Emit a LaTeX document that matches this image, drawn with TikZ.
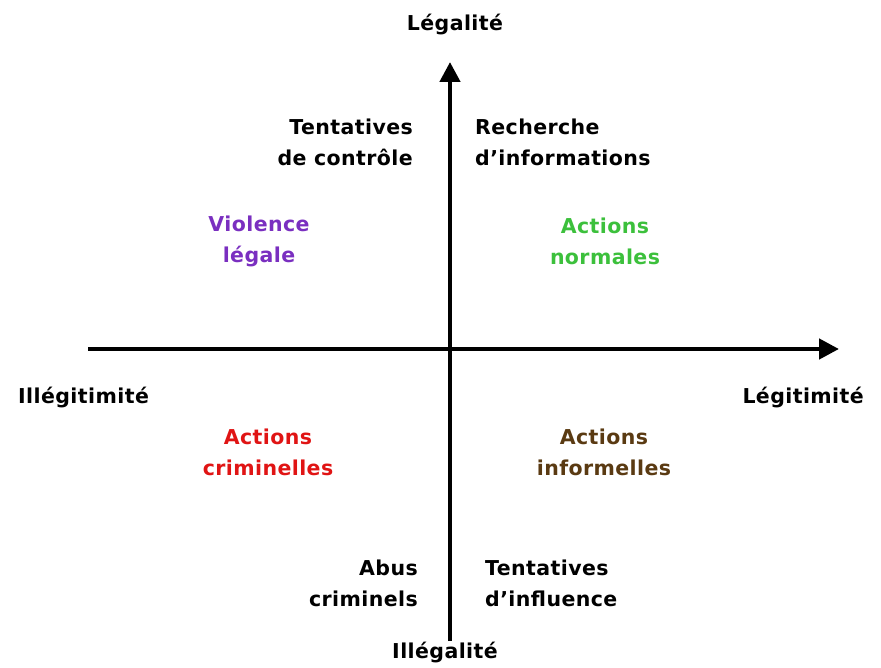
\documentclass[tikz,border=0pt]{standalone}
\usepackage{fontspec}
\setmainfont{DejaVu Sans}[LetterSpace=2]
\usetikzlibrary{arrows.meta}
\definecolor{cviolet}{HTML}{7A2FC0}
\definecolor{cgreen}{HTML}{3CC03C}
\definecolor{cred}{HTML}{E01414}
\definecolor{cbrown}{HTML}{5A3A12}
\begin{document}
\begin{tikzpicture}[x=1pt,y=-1pt,
  lbl/.style={font=\bfseries\fontsize{20.5}{31}\selectfont, inner sep=0pt, align=center},
  axis/.style={line width=4.5pt, -{Triangle[length=20pt,width=20pt]}}]
\useasboundingbox (0,0) rectangle (881,668);
\coordinate (o) at (450,349);
\coordinate (xl) at (88,349);
\coordinate (xr) at (839,349);
\coordinate (yt) at (450,62);
\coordinate (yb) at (450,641);
\draw[axis] (xl) -- (xr);
\draw[axis] (yb) -- (yt);
\node[lbl] (leg) at (455,25) {Légalité};
\node[lbl] (illeg) at (445,653) {Illégalité};
\node[lbl, anchor=west] (illegit) at (18,398) {Illégitimité};
\node[lbl, anchor=east] (legit) at (864,398) {Légitimité};
\node[lbl, align=right, anchor=east] (tc) at (413,142) {Tentatives\\de contrôle};
\node[lbl, align=left, anchor=west] (ri) at (475,142) {Recherche\\d'informations};
\node[lbl, text=cviolet] (vl) at (259,241) {Violence\\légale};
\node[lbl, text=cgreen] (an) at (605,241) {Actions\\normales};
\node[lbl, text=cred] (ac) at (268,452) {Actions\\criminelles};
\node[lbl, text=cbrown] (ai) at (604,452) {Actions\\informelles};
\node[lbl, align=right, anchor=east] (ab) at (418,583) {Abus\\criminels};
\node[lbl, align=left, anchor=west] (ti) at (485,583) {Tentatives\\d'influence};
\end{tikzpicture}
\end{document}
